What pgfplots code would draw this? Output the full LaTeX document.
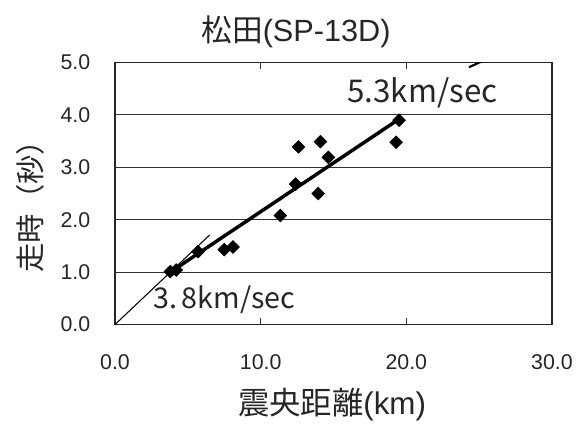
\documentclass[border=0pt]{standalone}
\usepackage{pgfplots}
\pgfplotsset{compat=1.18}
\usepackage{fontspec}
\setmainfont{Liberation Sans}
\newfontfamily\cjk{Noto Sans CJK JP}
\begin{document}
\begin{tikzpicture}
\path[use as bounding box] (-86.25pt,-74.6pt) rectangle (350.25pt,243.4pt);
\begin{axis}[
  scale only axis,
  width=327.75pt, height=196.5pt,
  xmin=0, xmax=30, ymin=0, ymax=5,
  xtick={0,10,20,30}, ytick={0,1,2,3,4,5},
  xticklabels={0.0,10.0,20.0,30.0},
  yticklabels={0.0,1.0,2.0,3.0,4.0,5.0},
  ymajorgrids,
  grid style={black!80, line width=0.7pt},
  axis line style={black!85, line width=1.3pt},
  tick align=inside,
  major tick length=5pt,
  xtick style={black!80, line width=0.8pt},
  ytick style={draw=none},
  /pgf/number format/assume math mode=true,
  tick label style={font=\fontsize{16}{19}\selectfont, text=black!85},
  xticklabel style={anchor=base, yshift=-33.5pt},
  yticklabel style={anchor=east, xshift=-15pt},
  clip=true,
]
% thin 3.8 km/sec line
\addplot[black, line width=0.8pt] coordinates {(0,0) (6.5,1.71)};
% thick 5.3 km/sec fit line
\addplot[black, line width=2.6pt] coordinates {(3.8,1.0) (19.55,3.93)};
\addplot[black, line width=1.6pt] coordinates {(24.3,4.91) (25.4,5.05)};
% observations
\addplot[only marks, mark=square*, mark size=3.4pt, mark options={rotate=45, fill=black, draw=black}] coordinates {
 (3.8,1.01) (4.2,1.04) (5.7,1.39) (7.5,1.43) (8.1,1.48) (11.35,2.08)
 (12.4,2.68) (12.6,3.39) (14.1,3.49) (13.95,2.50) (14.65,3.19)
 (19.3,3.48) (19.5,3.90)
};
\node[font=\cjk\fontsize{23.5}{26}\selectfont, text=black!85] at (axis cs:21.1,4.43) {5.3km/sec};
\node[font=\cjk\fontsize{21.5}{24}\selectfont, text=black!85] at (axis cs:7.5,0.47) {3.\,8km/sec};
\end{axis}
\node[font=\fontsize{23}{26}\selectfont, text=black!85] at (135.75pt,219.4pt) {{\cjk 松田}(SP-13D)};
\node[font=\fontsize{23.5}{26}\selectfont, text=black!85] at (162.75pt,-60.4pt) {{\cjk 震央距離}(km)};
\node[font=\cjk\fontsize{22}{24}\selectfont, text=black!85, rotate=90] at (-63.75pt,94pt) {走時（秒）};
\end{tikzpicture}
\end{document}
